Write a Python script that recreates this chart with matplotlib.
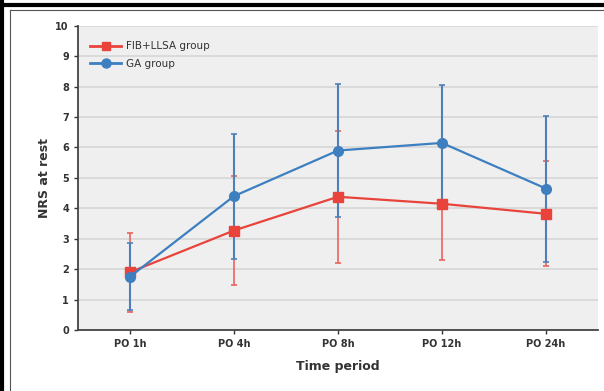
import matplotlib.pyplot as plt
from matplotlib.lines import Line2D

periods = ['PO 1h', 'PO 4h', 'PO 8h', 'PO 12h', 'PO 24h']

fib_mean = [1.9, 3.27, 4.38, 4.15, 3.82]
fib_sd = [1.3, 1.8, 2.17, 1.85, 1.72]

ga_mean = [1.75, 4.4, 5.9, 6.15, 4.65]
ga_sd = [1.1, 2.05, 2.2, 1.9, 2.4]

red = '#e8443c'
blue = '#3d7fc1'

fig = plt.figure(figsize=(6.04, 3.91), dpi=100)
ax = fig.add_axes([0.129, 0.156, 0.861, 0.778])
ax.set_facecolor('#efefef')

x = list(range(len(periods)))

# error bars: red underneath, blue over it, then the lines with markers
ax.errorbar(x, fib_mean, yerr=fib_sd, fmt='none', ecolor='#e8645c', elinewidth=1.2,
            capsize=2.5, capthick=1.2, zorder=2)
ax.errorbar(x, ga_mean, yerr=ga_sd, fmt='none', ecolor='#4f7fb8', elinewidth=1.5,
            capsize=2.5, capthick=1.2, zorder=3)
ax.plot(x, fib_mean, color=red, marker='s', markersize=6.5, linewidth=1.6, zorder=4)
ax.plot(x, ga_mean, color=blue, marker='o', markersize=7, linewidth=1.6, zorder=5)

ax.set_xlim(-0.5, 4.5)
ax.set_ylim(0, 10)
ax.set_yticks(range(0, 11))
ax.set_xticks(x)
ax.set_xticklabels(periods)
ax.yaxis.grid(True, color='#d6d6d6', linewidth=1.2)
ax.set_axisbelow(True)

for s in ['top', 'right']:
    ax.spines[s].set_visible(False)
for s in ['left', 'bottom']:
    ax.spines[s].set_color('#444444')
    ax.spines[s].set_linewidth(1.3)

ax.tick_params(axis='both', labelsize=7, colors='#333333', length=3, width=1)
for lab in ax.get_xticklabels() + ax.get_yticklabels():
    lab.set_fontweight('bold')

ax.set_xlabel('Time period', fontsize=9, fontweight='bold', color='#333333', labelpad=8)
ax.set_ylabel('NRS at rest', fontsize=9, fontweight='bold', color='#333333', labelpad=3)

handles = [
    Line2D([], [], color=red, marker='s', markersize=6, linewidth=2),
    Line2D([], [], color=blue, marker='o', markersize=6.5, linewidth=2),
]
leg = ax.legend(handles, ['FIB+LLSA group', 'GA group'], loc='upper left',
                frameon=False, fontsize=7.5, handlelength=3.0, handletextpad=0.5,
                labelspacing=0.75, bbox_to_anchor=(0.005, 0.98))
for t in leg.get_texts():
    t.set_color('#333333')

# page border (left and top)
fig.add_artist(Line2D([0.004, 0.004], [0, 0.994], transform=fig.transFigure, color='black', linewidth=3))
fig.add_artist(Line2D([0.0, 1.0], [0.988, 0.988], transform=fig.transFigure, color='black', linewidth=3))
fig.add_artist(Line2D([0.017, 0.017], [0, 0.974], transform=fig.transFigure, color='#555555', linewidth=0.8))
fig.add_artist(Line2D([0.017, 1.0], [0.974, 0.974], transform=fig.transFigure, color='#555555', linewidth=0.8))

fig.savefig('out.png', dpi=100)
